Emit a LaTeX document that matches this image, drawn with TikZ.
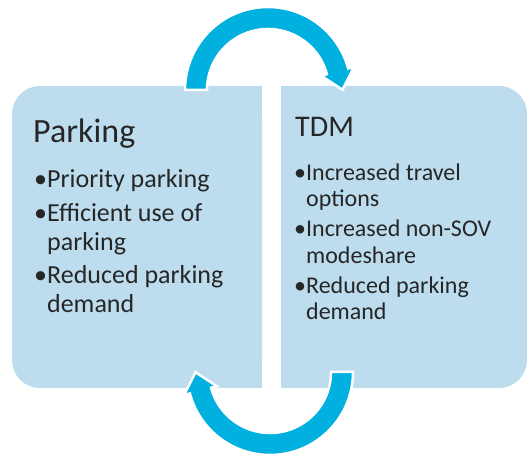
\documentclass[tikz,border=0pt]{standalone}
\usepackage{fontspec}
\setmainfont{Carlito}
\usetikzlibrary{positioning}
\definecolor{boxblue}{RGB}{189,221,239}
\definecolor{arrowcyan}{RGB}{0,176,222}
\definecolor{textgray}{RGB}{38,38,38}

\begin{document}
\begin{tikzpicture}[x=1pt,y=1pt,
  box/.style={fill=boxblue,rounded corners=28pt,minimum height=302pt,inner sep=0pt},
  title/.style={text=textgray,inner sep=0pt,anchor=base west},
  itemlist/.style={text=textgray,inner sep=0pt,anchor=base west,align=left},
  cyclearrow/.style={fill=arrowcyan,draw=white,line width=2.5pt}]
 \useasboundingbox (0,0) rectangle (527,455);
 % the two boxes, rounded on the outer side only
 \node[box,minimum width=250pt] (parking) at (137,218) {};
 \fill[boxblue] (parking.north) rectangle (parking.south east);
 \node[box,minimum width=246pt] (tdm) at (404,218) {};
 \fill[boxblue] (tdm.north west) rectangle (tdm.south);
 % texts (lists sit on the baseline of their last line)
 \node[title,font=\fontsize{34}{40}\selectfont] (parkingtitle) at (33,312) {Parking};
 \node[itemlist,font=\fontsize{26}{29}\selectfont] (parkinglist) at (34,142)
  {•Priority parking\\[4.5pt]•Efficient use of\\\phantom{•}parking\\[4.5pt]•Reduced parking\\\phantom{•}demand};
 \node[title,font=\fontsize{30}{36}\selectfont] (tdmtitle) at (295,318) {TDM};
 \node[itemlist,font=\fontsize{24}{26.5}\selectfont] (tdmlist) at (294,135)
  {•Increased travel\\\phantom{•}options\\[3.5pt]•Increased non-SOV\\\phantom{•}modeshare\\[3.5pt]•Reduced parking\\\phantom{•}demand};
 % the turning arrows
 \coordinate (topturn) at (268,365);
 \coordinate (bottomturn) at (270,83);
 \draw[cyclearrow,shift={(topturn)}] (180:83) arc[start angle=180,end angle=15,radius=83]
  -- (15:89) -- (0.2:74.5) -- (15:55) -- (15:61) arc[start angle=15,end angle=180,radius=61] -- cycle;
 \draw[cyclearrow,shift={(bottomturn)},rotate=180] (180:83) arc[start angle=180,end angle=15,radius=83]
  -- (15:89) -- (0.2:74.5) -- (15:55) -- (15:61) arc[start angle=15,end angle=180,radius=61] -- cycle;
\end{tikzpicture}
\end{document}
